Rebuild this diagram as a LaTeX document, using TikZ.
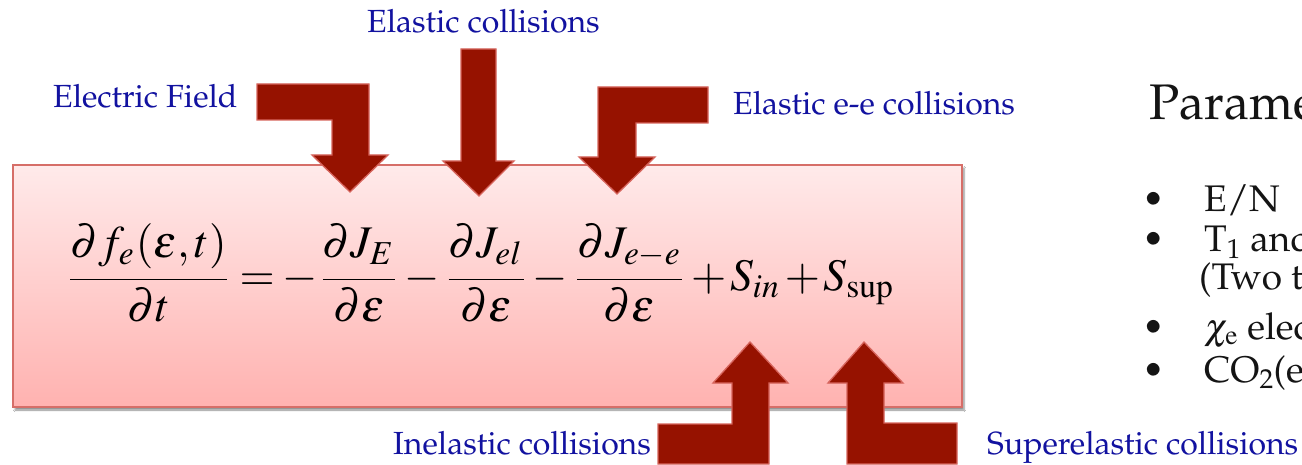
\documentclass[tikz,border=0pt]{standalone}
\usepackage[T1]{fontenc}
\usepackage{mathptmx}
\usepackage{graphicx}
\usetikzlibrary{shadows.blur}
\definecolor{arrowred}{RGB}{150,18,0}
\definecolor{arrowedge}{RGB}{214,100,92}
\definecolor{boxtop}{RGB}{255,234,234}
\definecolor{boxbot}{RGB}{255,178,176}
\definecolor{boxedge}{RGB}{214,110,104}
\definecolor{labelblue}{RGB}{18,18,160}
\definecolor{bodytext}{RGB}{20,20,20}
\newcommand{\numstrut}{\rule[-3.5pt]{0pt}{3.5pt}}
\begin{document}
\begin{tikzpicture}[x=1pt,y=-1pt,
  blockarrow/.style={fill=arrowred, draw=arrowedge, line width=1.3pt, line join=miter},
  boxstyle/.style={draw=boxedge, line width=1.3pt, top color=boxtop, bottom color=boxbot,
    blur shadow={shadow xshift=2pt, shadow yshift=-3pt, shadow blur steps=6, shadow opacity=45}},
  lbl/.style={anchor=base west, inner sep=0pt, text=labelblue, font=\fontfamily{ppl}\fontsize{32}{38}\selectfont},
  ptxt/.style={anchor=base west, inner sep=0pt, text=bodytext, font=\fontfamily{ppl}\fontsize{37}{44}\selectfont},
  ttl/.style={anchor=base west, inner sep=0pt, text=bodytext, font=\fontfamily{ppl}\fontsize{50}{60}\selectfont}]
\useasboundingbox (0,0) rectangle (1302,465);
\fill[white] (0,0) rectangle (1302,465);

% equation box
\node (eqbox) [boxstyle, minimum width=949pt, minimum height=242pt, inner sep=0pt] at (487.5,286) {};
\node (eq) at (480,273) {\resizebox{830pt}{!}{\thickmuskip=3mu\medmuskip=1.5mu$\displaystyle
  \frac{\partial f_e(\varepsilon,t)\numstrut}{\partial t}
  = -\frac{\partial J_E\numstrut}{\partial \varepsilon}
  -\frac{\partial J_{el}\numstrut}{\partial \varepsilon}
  -\frac{\partial J_{e-e}\numstrut}{\partial \varepsilon}
  + S_{in} + S_{\mathrm{sup}}$}};

% block arrows
\draw[blockarrow] (257,84) -- (369,84) -- (369,155) -- (388,155) -- (350,192) -- (312,155) -- (332,155) -- (332,120) -- (257,120) -- cycle;
\draw[blockarrow] (461,49) -- (496,49) -- (496,161) -- (514,161) -- (479,196) -- (443,161) -- (461,161) -- cycle;
\draw[blockarrow] (598,87) -- (708,87) -- (708,123) -- (636,123) -- (636,157) -- (655,157) -- (617,194) -- (579,157) -- (598,157) -- cycle;
\draw[blockarrow] (750,342) -- (788,383) -- (769,383) -- (769,464) -- (658,464) -- (658,424) -- (732,424) -- (732,383) -- (713,383) -- cycle;
\draw[blockarrow] (864,342) -- (903,383) -- (884,383) -- (884,423) -- (957,423) -- (957,464) -- (847,464) -- (847,383) -- (828,383) -- cycle;

% labels
\node[lbl] (lE) at (53,108) {Electric Field};
\node[lbl] (lel) at (367,33) {Elastic collisions};
\node[lbl] (lee) at (733,115) {Elastic e-e collisions};
\node[lbl] (lin) at (393,454) {Inelastic collisions};
\node[lbl] (lsup) at (987,454) {Superelastic collisions};

% right-hand text
\node[ttl] (title) at (1149,120) {Parame};
\node[ptxt] (b1) at (1142,212) {\textbullet};
\node[ptxt] (t1) at (1204,212) {E/N};
\node[ptxt] (b2) at (1142,252) {\textbullet};
\node[ptxt] (t2) at (1204,252) {T\textsubscript{1} and};
\node[ptxt] (t2b) at (1199,290) {(Two t};
\node[ptxt] (b3) at (1142,339) {\textbullet};
\node[ptxt] (t3) at (1204,339) {$\chi_{\mathrm{e}}$ elec};
\node[ptxt] (b4) at (1142,382) {\textbullet};
\node[ptxt] (t4) at (1204,382) {CO\textsubscript{2}(e};
\end{tikzpicture}
\end{document}
